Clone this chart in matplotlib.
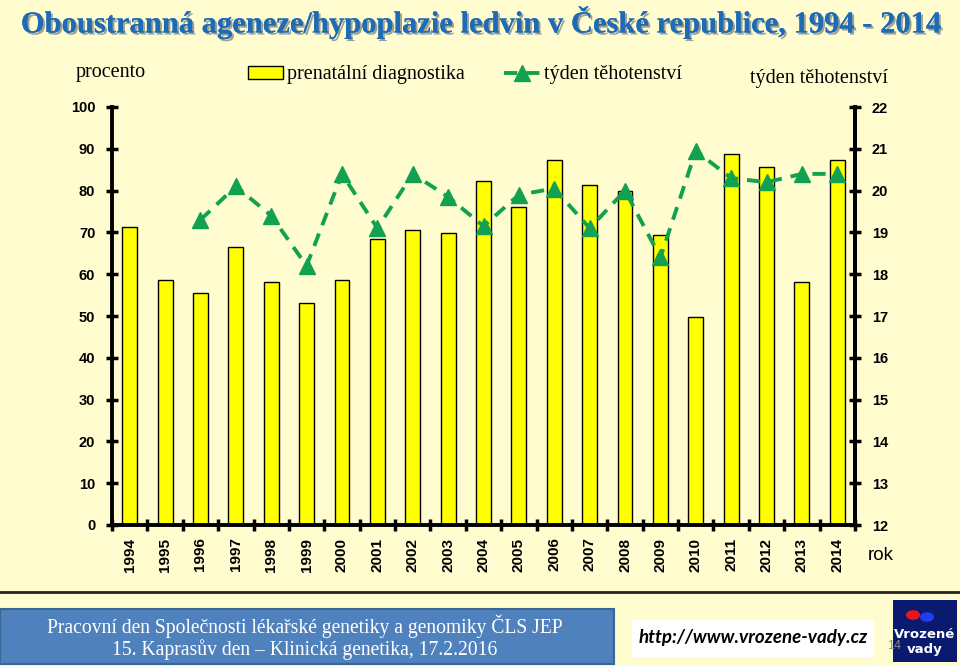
import matplotlib
matplotlib.use("Agg")
import matplotlib.pyplot as plt
import matplotlib.patheffects as pe
from matplotlib.patches import Rectangle, Circle
from matplotlib.lines import Line2D
import numpy as np

# === DONNÉES ===
years = [str(y) for y in range(1994, 2015)]
prenatal_pct = [71.3, 58.6, 55.5, 66.5, 58.1, 53.1, 58.6, 68.4, 70.6, 69.9, 82.3,
                76.1, 87.3, 81.3, 79.9, 69.4, 49.8, 88.8, 85.6, 58.1, 87.3]
week_years = [str(y) for y in range(1996, 2015)]
week_mean = [19.3, 20.1, 19.4, 18.2, 20.4, 19.1, 20.4, 19.85, 19.15, 19.9,
             20.05, 19.1, 20.0, 18.4, 20.95, 20.3, 20.2, 20.4, 20.4]
pct_ticks = list(range(0, 101, 10))
week_ticks = list(range(12, 23))

BG = '#FFFDD0'
GREEN = '#12A150'
W, H = 960, 666


def fx(x):
    return x / W


def fy(y):
    return 1 - y / H


fig = plt.figure(figsize=(9.6, 6.66), dpi=100, facecolor=BG)

# titre
fig.text(fx(481), fy(22), "Oboustranná ageneze/hypoplazie ledvin v České republice, 1994 - 2014",
         ha='center', va='center', fontsize=22.0, fontweight='bold', family='Liberation Serif',
         color='#1E6BB5',
         path_effects=[pe.withSimplePatchShadow(offset=(1.5, -1.5), shadow_rgbFace='#7a7a7a', alpha=0.7),
                       pe.Normal()])

# axes
ax = fig.add_axes([fx(112), fy(525), fx(855) - fx(112), fy(107) - fy(525)])
ax.set_facecolor(BG)
x = np.arange(len(years))
bars = ax.bar(x, prenatal_pct, width=0.42, color='#FFFF00', edgecolor='black', linewidth=1,
              label='prenatální diagnostika', zorder=2)
ax.set_xlim(-0.5, len(years) - 0.5)
ax.set_ylim(0, 100)
ax.set_yticks(pct_ticks)
ax.set_xticks(x)
ax.set_xticklabels(years, rotation=90, fontsize=11, fontweight='bold', family='Liberation Sans')
ax.set_xticks(np.arange(-0.5, len(years), 1), minor=True)
ax.tick_params(axis='x', which='major', length=0, pad=9)
ax.tick_params(axis='x', which='minor', length=8, width=2.5, direction='inout')
ax.tick_params(axis='y', length=8, width=2.5, direction='inout', pad=8, labelsize=10.5)
for lab in ax.get_yticklabels():
    lab.set_fontweight('bold')
    lab.set_family('Liberation Sans')
ax.spines['top'].set_visible(False)
for s in ['left', 'right', 'bottom']:
    ax.spines[s].set_linewidth(2.8)

ax2 = ax.twinx()
wx = [years.index(y) for y in week_years]
line, = ax2.plot(wx, week_mean, color=GREEN, linewidth=2.8, linestyle=(0, (3.4, 2.3)),
                 marker='^', markersize=12, label='týden těhotenství', zorder=3)
ax2.set_ylim(12, 22)
ax2.set_yticks(week_ticks)
ax2.tick_params(axis='y', length=8, width=2.5, direction='inout', pad=8, labelsize=10.5)
for lab in ax2.get_yticklabels():
    lab.set_fontweight('bold')
    lab.set_family('Liberation Sans')
for s in ['top', 'left', 'bottom']:
    ax2.spines[s].set_visible(False)
ax2.spines['right'].set_linewidth(2.8)

# popisky os
fig.text(fx(76), fy(73), "procento", ha='left', va='center', fontsize=14.5, family='Liberation Serif')
fig.text(fx(888), fy(79), "týden těhotenství", ha='right', va='center', fontsize=14.5, family='Liberation Serif')
fig.text(fx(868), fy(555), "rok", ha='left', va='center', fontsize=13.5, family='Liberation Sans')

# legenda
fig.legend(handles=[bars, line], loc='center left', bbox_to_anchor=(fx(230), fy(75)), ncol=2,
           frameon=False, prop={'family': 'Liberation Serif', 'size': 14.5},
           handlelength=1.75, handleheight=0.65, handletextpad=0.2, columnspacing=1.95)

# zápatí
fig.add_artist(Line2D([0, 1], [fy(592), fy(592)], transform=fig.transFigure, color='#222222', linewidth=2))
fig.add_artist(Rectangle((fx(0), fy(664)), fx(614), fy(609) - fy(664), transform=fig.transFigure,
                         facecolor='#4F81BD', edgecolor='#3A6594', linewidth=1.5))
fig.text(fx(305), fy(626), "Pracovní den Společnosti lékařské genetiky a genomiky ČLS JEP",
         ha='center', va='center', fontsize=14.1, color='white', family='Liberation Serif')
fig.text(fx(305), fy(650), "15. Kaprasův den – Klinická genetika, 17.2.2016",
         ha='center', va='center', fontsize=14.1, color='white', family='Liberation Serif')

fig.add_artist(Rectangle((fx(632), fy(657)), fx(874) - fx(632), fy(620) - fy(657), transform=fig.transFigure,
                         facecolor='white', edgecolor='none'))
fig.text(fx(753), fy(638), "http://www.vrozene-vady.cz", ha='center', va='center', fontsize=13.5,
         fontweight='bold', style='italic', family='Lato', color='black')
fig.text(fx(887), fy(646), "14", ha='left', va='center', fontsize=9, color='#8c8c8c', family='Liberation Sans')

# logo
fig.add_artist(Rectangle((fx(893), fy(662)), fx(64), fy(600) - fy(662), transform=fig.transFigure,
                         facecolor='#0A1A6E', edgecolor='none'))
fig.add_artist(Circle((fx(913), fy(615)), fx(7), transform=fig.transFigure, facecolor='#E8141E', edgecolor='none'))
fig.add_artist(Circle((fx(927), fy(617)), fx(7), transform=fig.transFigure, facecolor='#1F3CF0', edgecolor='none'))
fig.text(fx(925), fy(634), "Vrozené", ha='center', va='center', fontsize=9.5, fontweight='bold',
         color='white', family='DejaVu Sans')
fig.text(fx(925), fy(650), "vady", ha='center', va='center', fontsize=9.5, fontweight='bold',
         color='white', family='DejaVu Sans')

fig.savefig("out.png", dpi=100, facecolor=BG)
